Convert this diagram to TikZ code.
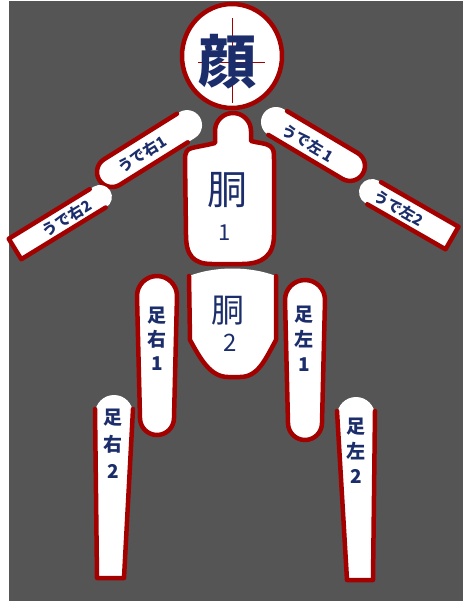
\documentclass[tikz,border=0pt]{standalone}
\usepackage{fontspec}
\newfontfamily\cjk{Noto Sans CJK JP}
\definecolor{bg}{HTML}{555555}
\definecolor{rimred}{HTML}{A30000}
\definecolor{ink}{HTML}{1C2D6B}
\begin{document}
\begin{tikzpicture}[x=1pt,y=-1pt,
  bodyfill/.style={fill=white},
  rim/.style={draw=rimred, line width=4.5pt, line join=round, line cap=round},
  armtext/.style={text=ink, inner sep=0pt, font=\cjk\bfseries\fontsize{15}{15}\selectfont},
  legtext/.style={text=ink, inner sep=0pt, align=center},
  trunktext/.style={text=ink, inner sep=0pt, font=\cjk\fontsize{40}{40}\selectfont}]
% canvas
\useasboundingbox (0,0) rectangle (463,603);
\fill[white] (0,0) rectangle (463,603);
\fill[bg] (9,1) rectangle (463,601);

% head
\draw[rim, fill=white] (232,56) ellipse[x radius=50, y radius=52];
\draw[rimred, line width=0.9pt] (232,18) -- (232,103);
\draw[rimred, line width=0.9pt] (198,62) -- (265,62);
\node[text=ink, inner sep=0pt, font=\cjk\bfseries\fontsize{58}{58}\selectfont] (face) at (227,62) {顔};

% upper trunk
\path[bodyfill, rim] (215,143) -- (215,131) arc[start angle=180, end angle=360, radius=18]
  -- (251,141) .. controls (258,143) and (266,143) .. (270,146)
  .. controls (274,149) and (274,152) .. (274,160) -- (274,235)
  .. controls (274,256) and (262,264) .. (242,264) -- (212,264)
  .. controls (193,264) and (186,255) .. (186,235) -- (185,160)
  .. controls (185,152) and (187,149) .. (192,148)
  .. controls (200,146) and (208,145) .. (215,143) -- cycle;
\node[trunktext] (trunkA) at (227,190) {胴};
\node[text=ink, inner sep=0pt, font=\cjk\fontsize{22}{22}\selectfont] (trunkAnum) at (225,233) {1};

% lower trunk
\fill[white] (189,276) .. controls (215,266) and (250,266) .. (276,276)
  -- (276,340) .. controls (265,360) and (258,377) .. (240,377)
  -- (228,377) .. controls (210,377) and (200,358) .. (190,340) -- cycle;
\draw[rim] (189,276) -- (190,340) .. controls (200,358) and (210,377) .. (228,377)
  -- (240,377) .. controls (258,377) and (265,360) .. (276,340) -- (276,276);
\node[trunktext, font=\cjk\fontsize{33}{33}\selectfont] (trunkB) at (228,311) {胴};
\node[text=ink, inner sep=0pt, font=\cjk\fontsize{24}{24}\selectfont] (trunkBnum) at (230,343) {2};

% right arm, upper
\begin{scope}[shift={(112,172)}, rotate=32]
  \fill[white] (0,-15) -- (88.5,-15) arc[start angle=-90, end angle=90, radius=15]
    -- (0,15) arc[start angle=90, end angle=270, radius=15] -- cycle;
  \draw[rim] (86,-15) -- (0,-15) arc[start angle=270, end angle=90, radius=15] -- (80,15);
\end{scope}
\node[armtext, rotate=32] (armRA) at (142,154) {うで右1};

% right arm, lower
\begin{scope}[shift={(15,249)}, rotate=31.5]
  \fill[white] (0,-12) -- (99.6,-12) arc[start angle=-90, end angle=90, radius=12]
    -- (0,12) -- cycle;
  \draw[rim] (95,-12) -- (0,-12) -- (0,12) -- (99,12);
\end{scope}
\node[armtext, rotate=31.5] (armRB) at (67,218) {うで右2};

% left arm, upper
\begin{scope}[shift={(276,122)}, rotate=-30.7]
  \fill[white] (0,-15) -- (86,-15) arc[start angle=-90, end angle=90, radius=15]
    -- (0,15) arc[start angle=90, end angle=270, radius=15] -- cycle;
  \draw[rim] (4,-15) -- (86,-15) arc[start angle=-90, end angle=90, radius=15] -- (0,15);
\end{scope}
\node[armtext, rotate=-30.7] (armLA) at (308,143) {うで左 1};

% left arm, lower
\begin{scope}[shift={(372,192)}, rotate=-29.9]
  \fill[white] (0,-13) -- (92.3,-13) -- (92.3,13) -- (0,13)
    arc[start angle=90, end angle=270, radius=13] -- cycle;
  \draw[rim] (3,-13) -- (92.3,-13) -- (92.3,13) -- (2,13);
\end{scope}
\node[armtext, rotate=-29.9] (armLB) at (399,208) {うで左2};

% right leg, upper
\path[bodyfill, rim] (137,296) arc[start angle=180, end angle=360, radius=20]
  -- (174,418) arc[start angle=0, end angle=180, radius=17] -- cycle;
\node[legtext, font=\cjk\bfseries\fontsize{19}{24}\selectfont] (legRA) at (157,339) {足\\右\\1};

% left leg, upper
\path[bodyfill, rim] (285,300) arc[start angle=180, end angle=360, radius=20]
  -- (322,423) arc[start angle=0, end angle=180, radius=17] -- cycle;
\node[legtext, font=\cjk\bfseries\fontsize{19}{25}\selectfont] (legLA) at (304,339) {足\\左\\1};

% right leg, lower
\fill[white] (95,414) arc[start angle=180, end angle=360, radius=19]
  -- (124,578) -- (97,578) -- cycle;
\draw[rim] (95,409) -- (97,578) -- (124,578) -- (133,409);
\node[legtext, font=\cjk\bfseries\fontsize{19}{27}\selectfont] (legRB) at (113,444) {足\\右\\2};

% left leg, lower
\fill[white] (337,416) arc[start angle=180, end angle=360, radius=19]
  -- (373,580) -- (347,580) -- cycle;
\draw[rim] (337,411) -- (347,580) -- (373,580) -- (375,411);
\node[legtext, font=\cjk\bfseries\fontsize{19}{25}\selectfont] (legLB) at (356,451) {足\\左\\2};
\end{tikzpicture}
\end{document}
